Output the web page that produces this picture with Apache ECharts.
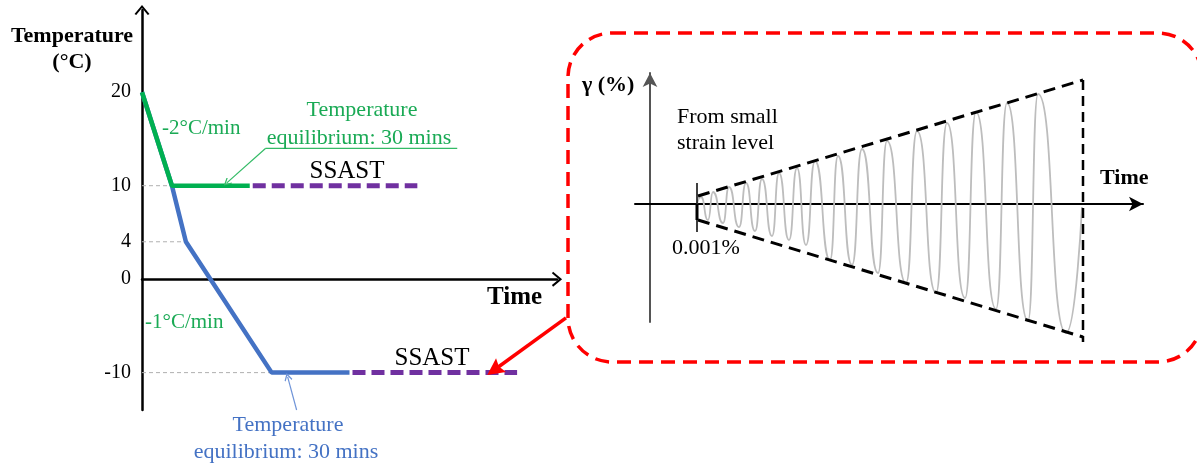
<!DOCTYPE html>
<html>
<head>
<meta charset="utf-8">
<script src="https://cdn.jsdelivr.net/npm/echarts@6/dist/echarts.min.js"></script>
<style>html,body{margin:0;padding:0;background:#fff;}#chart{width:1197px;height:466px;}</style>
</head>
<body>
<div id="chart"></div>
<script>
// ---------- Left panel: temperature history (x = schematic time units) ----------
const tempTicks = [20, 10, 4, 0, -10];
const greenPath = [[0, 20], [7.5, 10], [27, 10]];
const bluePath = [[0, 20], [7.5, 10], [11, 4], [32.5, -10], [52, -10]];
const ssastUpper = [[27.75, 10], [69, 10]];
const ssastLower = [[52.75, -10], [94, -10]];
const guide10 = [[0, 10], [7.5, 10]];
const guide4 = [[0, 4], [11, 4]];
const guideM10 = [[0, -10], [32.5, -10]];
const greenPointer = [[79, 14.0], [31, 14.0], [21.25, 10.3]];
const bluePointer = [[38.75, -14.0], [36.5, -10.45]];
const redPointer = [[106.25, -4.15], [88.25, -9.72]];

// ---------- Right panel: strain amplitude sweep ----------
const envelopeTop = [[4.8, 0.8], [43.3, 12.4]];
const envelopeBottom = [[4.8, -1.6], [43.3, -13.3]];
const endLine = [[43.3, 12.4], [43.3, -13.8]];
const startTick = [[4.7, 2.1], [4.7, -2.8]];
const startTickBold = [[4.7, 0], [4.7, -1.6]];
const strainWave = [
  [4.7, 0], [5.1, 0.7], [5.8, -1.6], [6.3, 1.2], [7.3, -1.9], [7.9, 1.7],
  [8.9, -2.3], [9.6, 2.1], [10.5, -2.7], [11.2, 2.5], [12.2, -3.2], [12.9, 3.1],
  [13.9, -3.6], [14.7, 3.6], [15.6, -4.1], [16.5, 4.3], [18.0, -5.6], [18.8, 4.8],
  [20.2, -6.1], [21.2, 5.5], [22.8, -6.9], [23.7, 6.3], [25.6, -7.9], [26.7, 7.3],
  [28.6, -8.9], [29.7, 8.1], [31.5, -9.4], [32.6, 9.2], [34.6, -10.5], [35.7, 10.1],
  [37.8, -11.7], [38.8, 11.0], [41.6, -12.9], [43.2, -0.3]
];

const SERIF = "'Liberation Serif', 'Times New Roman', serif";
const GREEN = '#00b050';
const GREEN_TXT = '#1aaa55';
const BLUE = '#4472c4';
const PURPLE = '#7030a0';
const chevron = 'path://M0,9 L7.5,0 L15,9 L13.3,10.2 L7.5,3.2 L1.7,10.2 Z';
const solidHead = 'path://M6,0 L12,16 L6,13.5 L0,16 Z';

function seg(data, color, width, dash, xi, yi, z) {
  return {
    type: 'line', data: data, xAxisIndex: xi, yAxisIndex: yi,
    symbol: 'none', clip: false, silent: true, z: z || 2,
    lineStyle: { color: color, width: width, type: dash || 'solid', cap: 'butt' }
  };
}
function pointer(coords, color, width, symbol, size, xi, yi) {
  return {
    type: 'lines', coordinateSystem: 'cartesian2d', xAxisIndex: xi, yAxisIndex: yi,
    polyline: false, clip: false, silent: true, z: 5,
    symbol: ['none', symbol], symbolSize: size,
    lineStyle: { color: color, width: width, opacity: 1, curveness: 0 },
    data: [{ coords: coords }]
  };
}
function txt(text, x, y, size, color, opts) {
  opts = opts || {};
  return {
    type: 'text', x: x, y: y, z: 10, silent: true,
    style: {
      text: text, fill: color, align: opts.align || 'left', verticalAlign: 'middle',
      font: (opts.bold ? 'bold ' : '') + size + 'px ' + SERIF
    }
  };
}

const chart = echarts.init(document.getElementById('chart'), null, { renderer: 'canvas' });
chart.setOption({
  animation: false,
  backgroundColor: '#ffffff',
  grid: [
    { left: 142, top: 10, width: 415, height: 400 },
    { left: 635, top: 73, width: 508, height: 249 }
  ],
  xAxis: [
    {
      gridIndex: 0, type: 'value', min: 0, max: 104,
      axisLine: { onZero: true, symbol: ['none', chevron], symbolSize: [15, 10.2],
        lineStyle: { color: '#000', width: 2.5 } },
      axisTick: { show: false }, axisLabel: { show: false }, splitLine: { show: false }
    },
    {
      gridIndex: 1, type: 'value', min: -1.5, max: 49.3,
      axisLine: { onZero: true, symbol: ['none', 'arrow'], symbolSize: [11, 14],
        lineStyle: { color: '#000', width: 2 } },
      axisTick: { show: false }, axisLabel: { show: false }, splitLine: { show: false }
    }
  ],
  yAxis: [
    {
      gridIndex: 0, type: 'value', min: -14, max: 28.8, interval: 1,
      axisLine: { onZero: true, symbol: ['none', chevron], symbolSize: [15, 10.2],
        lineStyle: { color: '#000', width: 2.5 } },
      axisTick: { show: false }, splitLine: { show: false },
      axisLabel: {
        margin: 11, color: '#000', fontFamily: SERIF, fontSize: 20,
        showMinLabel: true, showMaxLabel: false,
        formatter: function (v) { return tempTicks.indexOf(Math.round(v * 100) / 100) >= 0 ? String(v) : ''; }
      }
    },
    {
      gridIndex: 1, type: 'value', min: -11.8, max: 13.1,
      axisLine: { onZero: true, symbol: ['none', 'arrow'], symbolSize: [11, 14],
        lineStyle: { color: '#555', width: 2 } },
      axisTick: { show: false }, axisLabel: { show: false }, splitLine: { show: false }
    }
  ],
  graphic: [
    {
      type: 'rect', z: 1, silent: true,
      shape: { x: 568, y: 33, width: 634, height: 329, r: 44 },
      style: { fill: 'none', stroke: '#ff0000', lineWidth: 3.5, lineDash: [14, 8] }
    },
    txt('Temperature', 72, 36, 22, '#000', { bold: true, align: 'center' }),
    txt('(°C)', 72, 62, 22, '#000', { bold: true, align: 'center' }),
    txt('-2°C/min', 162, 128, 21, GREEN_TXT),
    txt('Temperature', 362, 110, 22, GREEN_TXT, { align: 'center' }),
    txt('equilibrium: 30 mins', 359, 138, 22, GREEN_TXT, { align: 'center' }),
    txt('SSAST', 347, 171, 25, '#000', { align: 'center' }),
    txt('Time', 487, 298, 25, '#000', { bold: true }),
    txt('-1°C/min', 145, 322, 21, GREEN_TXT),
    txt('SSAST', 432, 358, 25, '#000', { align: 'center' }),
    txt('Temperature', 288, 425, 22, BLUE, { align: 'center' }),
    txt('equilibrium: 30 mins', 286, 452, 22, BLUE, { align: 'center' }),
    txt('γ (%)', 582, 85, 22, '#000', { bold: true }),
    txt('From small', 677, 117, 22, '#000'),
    txt('strain level', 677, 143, 22, '#000'),
    txt('0.001%', 706, 248, 22, '#000', { align: 'center' }),
    txt('Time', 1100, 178, 22, '#000', { bold: true })
  ],
  series: [
    seg(guide10, '#b0b0b0', 1, [4, 3], 0, 0, 1),
    seg(guide4, '#b0b0b0', 1, [4, 3], 0, 0, 1),
    seg(guideM10, '#b0b0b0', 1, [4, 3], 0, 0, 1),
    seg(bluePath, BLUE, 4.5, 'solid', 0, 0, 3),
    seg(greenPath, GREEN, 4.5, 'solid', 0, 0, 4),
    seg(ssastUpper, PURPLE, 5, [13, 6], 0, 0, 3),
    seg(ssastLower, PURPLE, 5, [13, 6], 0, 0, 3),
    seg(greenPointer.slice(0, 2), '#33bb66', 1.2, 'solid', 0, 0, 5),
    pointer(greenPointer.slice(1), '#33bb66', 1.2, chevron, [10, 8], 0, 0),
    pointer(bluePointer, '#6f94d8', 1.2, chevron, [10, 8], 0, 0),
    pointer(redPointer, '#ff0000', 3.5, solidHead, [13, 17], 0, 0),
    Object.assign(seg(strainWave, '#bdbdbd', 1.8, 'solid', 1, 1, 2), { smooth: 0.6, smoothMonotone: 'x' }),
    seg(envelopeTop, '#000', 3, [12, 7], 1, 1, 4),
    seg(envelopeBottom, '#000', 3, [12, 7], 1, 1, 4),
    seg(endLine, '#000', 2.5, [10, 6], 1, 1, 4),
    seg(startTick, '#000', 1.5, 'solid', 1, 1, 4),
    seg(startTickBold, '#000', 3, 'solid', 1, 1, 4)
  ]
});
</script>
</body>
</html>
